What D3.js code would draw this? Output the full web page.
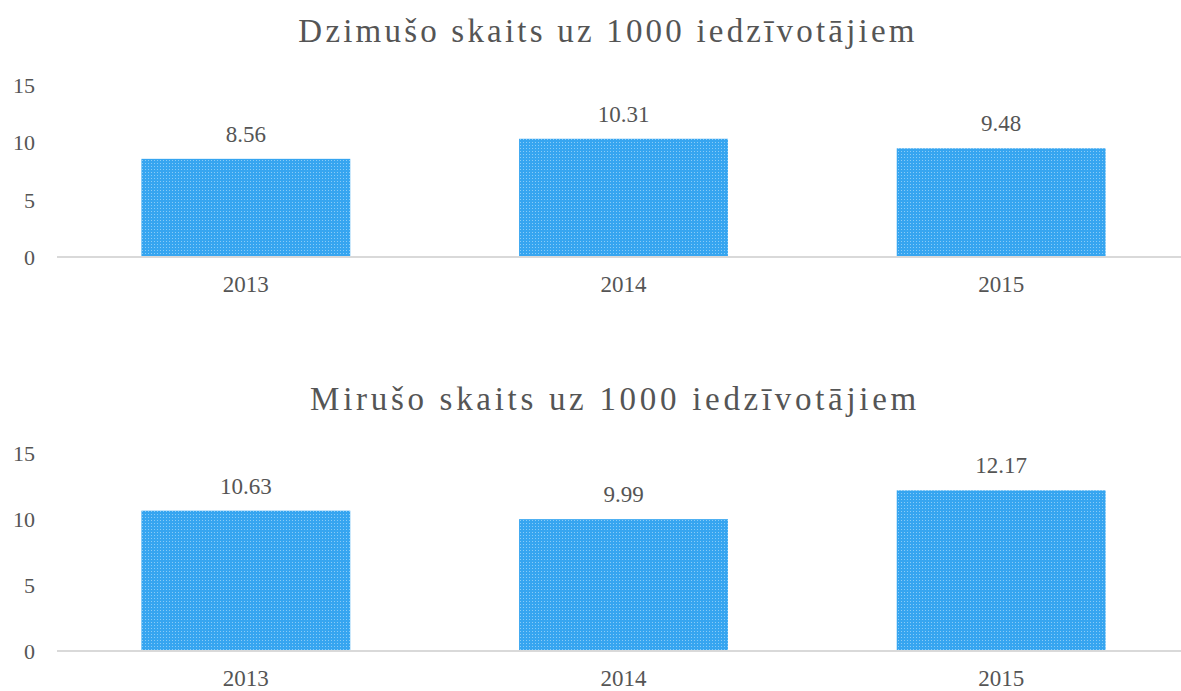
<!DOCTYPE html>
<html>
<head>
<meta charset="utf-8">
<script src="https://cdn.jsdelivr.net/npm/d3@7"></script>
<style>
  body { margin: 0; background: #fff; }
  text { font-family: "Liberation Serif", "Times New Roman", serif; fill: #555; }
</style>
</head>
<body>
<script>
const years = ["2013", "2014", "2015"];
const birthValues = [8.56, 10.31, 9.48];
const deathValues = [10.63, 9.99, 12.17];
const yTicks = [0, 5, 10, 15];
const birthTitle = "Dzimušo skaits uz 1000 iedzīvotājiem";
const deathTitle = "Mirušo skaits uz 1000 iedzīvotājiem";

const width = 1181, height = 691;

var svg = d3.select("body").append("svg")
    .attr("width", width)
    .attr("height", height);

// dotted texture like the scanned bars
var pat = svg.append("defs").append("pattern")
    .attr("id", "dots")
    .attr("width", 3).attr("height", 3)
    .attr("patternUnits", "userSpaceOnUse");
pat.append("rect").attr("width", 3).attr("height", 3).attr("fill", "#36a5f0");
pat.append("rect").attr("x", 1).attr("y", 1).attr("width", 1).attr("height", 1).attr("fill", "#88cbf7");

var x = d3.scaleBand()
    .domain(years)
    .range([57, 1190])
    .paddingInner(0.447)
    .paddingOuter(0.2235);

function drawChart(values, title, titleX, titleY, spacing, y0, y15) {
    var y = d3.scaleLinear().domain([0, 15]).range([y0, y15]);
    var g = svg.append("g");

    g.append("text")
        .attr("x", titleX)
        .attr("y", titleY)
        .attr("text-anchor", "middle")
        .attr("font-size", 33)
        .attr("letter-spacing", spacing)
        .text(title);

    // y labels
    g.selectAll(".ylab").data(yTicks).enter().append("text")
        .attr("class", "ylab")
        .attr("x", 35)
        .attr("y", d => y(d) + 8)
        .attr("text-anchor", "end")
        .attr("font-size", 22)
        .text(d => d);

    g.selectAll("rect").data(values).enter().append("rect")
        .attr("x", (d, i) => x(years[i]))
        .attr("y", d => y(d))
        .attr("width", x.bandwidth())
        .attr("height", d => y(0) - y(d))
        .attr("fill", "url(#dots)");

    // baseline
    g.append("line")
        .attr("x1", 57).attr("x2", width)
        .attr("y1", y(0)).attr("y2", y(0))
        .attr("stroke", "#d9d9d9")
        .attr("stroke-width", 2);

    g.selectAll(".val").data(values).enter().append("text")
        .attr("class", "val")
        .attr("x", (d, i) => x(years[i]) + x.bandwidth() / 2)
        .attr("y", d => y(d) - 17)
        .attr("text-anchor", "middle")
        .attr("font-size", 23)
        .text(d => d.toFixed(2));

    g.selectAll(".cat").data(years).enter().append("text")
        .attr("class", "cat")
        .attr("x", d => x(d) + x.bandwidth() / 2)
        .attr("y", y(0) + 35)
        .attr("text-anchor", "middle")
        .attr("font-size", 23)
        .text(d => d);
}

drawChart(birthValues, birthTitle, 608, 42, 3.2, 257, 85);
drawChart(deathValues, deathTitle, 615, 410, 3.7, 651, 453);
</script>
</body>
</html>
